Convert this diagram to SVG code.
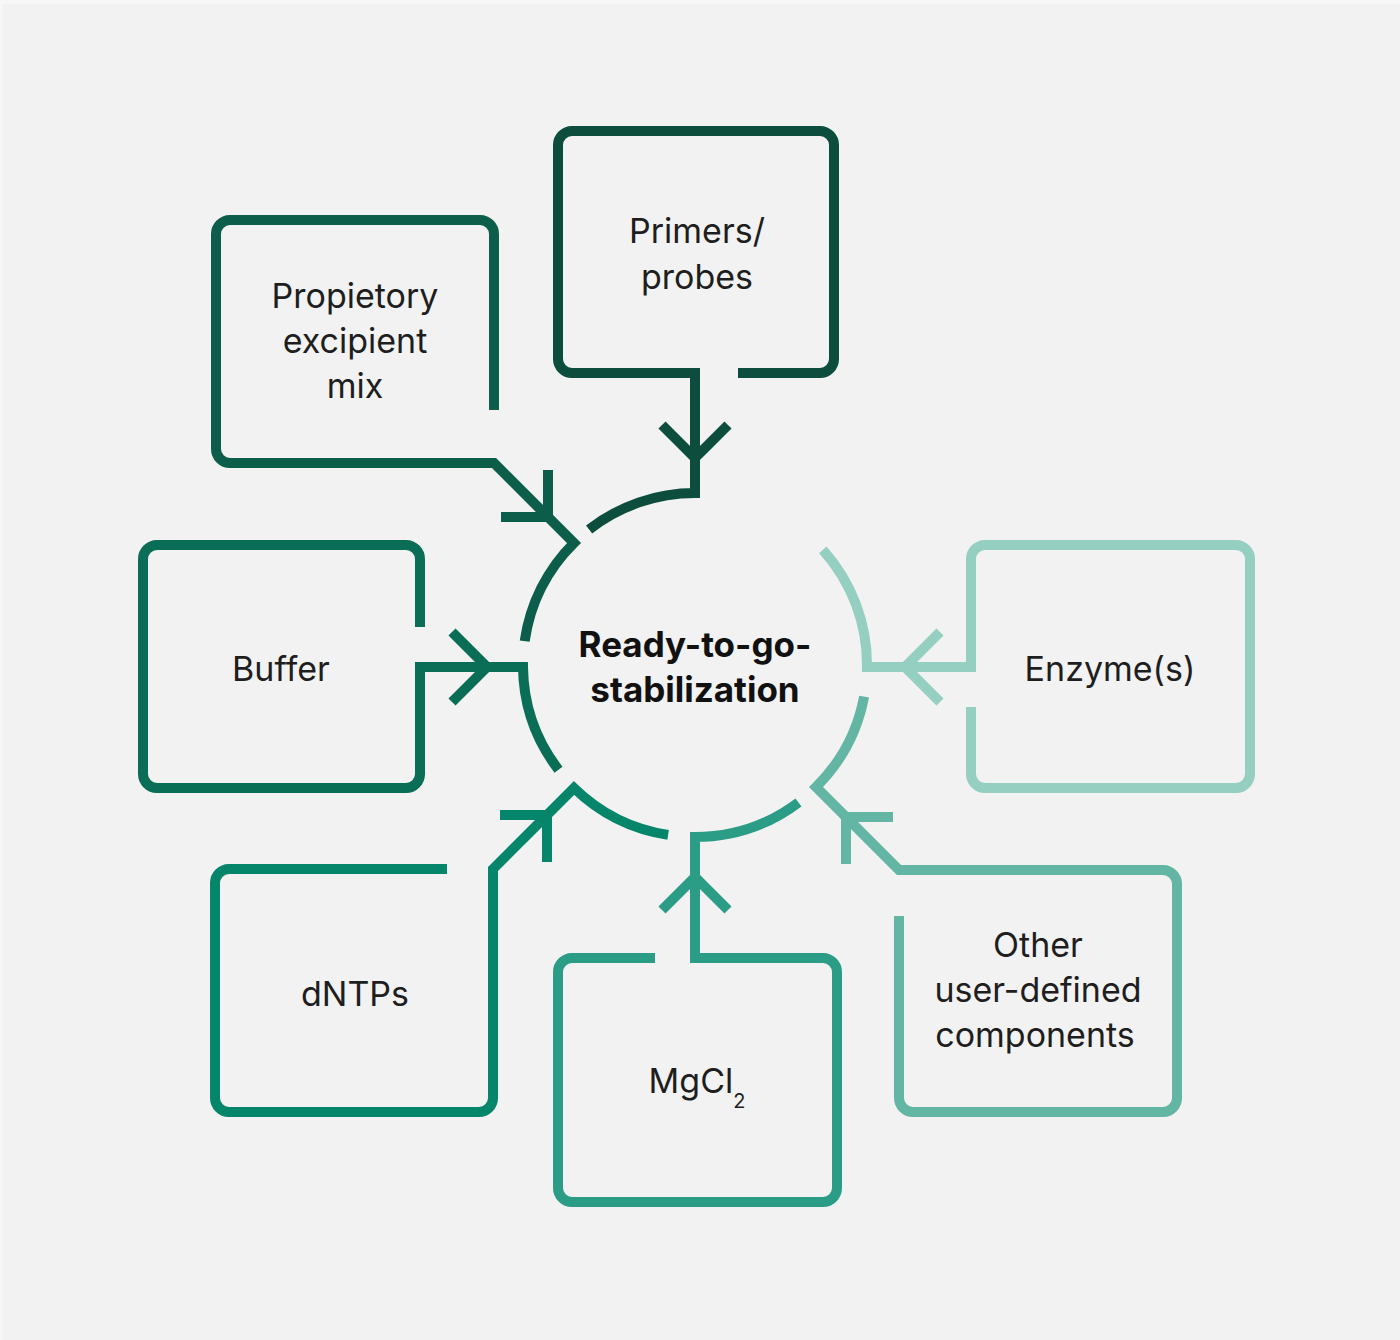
<svg xmlns="http://www.w3.org/2000/svg" width="1400" height="1340" viewBox="0 0 1400 1340">
<style>
.ln{fill:none;stroke-width:10;stroke-linecap:butt;stroke-linejoin:miter;stroke-miterlimit:10}
.c1{stroke:#0d4d3d}.c2{stroke:#0c5e4a}.c3{stroke:#0a6d55}.c4{stroke:#05856a}.c5{stroke:#2b9c85}.c6{stroke:#63b5a4}.c7{stroke:#95cfc2}
.t{font-family:Inter,"Liberation Sans",Arial,sans-serif;font-size:34px;fill:#1e1e1e;text-anchor:middle}
.tb{font-family:Inter,"Liberation Sans",Arial,sans-serif;font-size:35px;font-weight:700;fill:#111;text-anchor:middle}
</style>
<rect x="0" y="0" width="1400" height="1340" fill="#f7f7f7"/>
<rect x="3" y="4" width="1397" height="1336" fill="#f2f2f2"/>

<g id="center">
<text class="tb" x="695" y="657">Ready-to-go-</text>
<text class="tb" x="695" y="702">stabilization</text>
</g>

<g id="primers">
<path class="ln c1" d="M738,373 H820 A14 14 0 0 0 834,359 V145 A14 14 0 0 0 820,131 H572 A14 14 0 0 0 558,145 V359 A14 14 0 0 0 572,373 H690"/>
<text class="t" x="697" y="243">Primers/</text>
<text class="t" x="697" y="289">probes</text>
</g>

<g id="excipient">
<path class="ln c2" d="M494,410 V234 A14 14 0 0 0 480,220 H230 A14 14 0 0 0 216,234 V449 A14 14 0 0 0 230,463 H480"/>
<text class="t" x="355" y="308">Propietory</text>
<text class="t" x="355" y="353">excipient</text>
<text class="t" x="355" y="398">mix</text>
</g>

<g id="buffer">
<path class="ln c3" d="M420,627 V559 A14 14 0 0 0 406,545 H157 A14 14 0 0 0 143,559 V774 A14 14 0 0 0 157,788 H406 A14 14 0 0 0 420,774 V680"/>
<text class="t" x="281" y="681">Buffer</text>
</g>

<g id="enzymes">
<path class="ln c7" d="M971,707 V774 A14 14 0 0 0 985,788 H1236 A14 14 0 0 0 1250,774 V559 A14 14 0 0 0 1236,545 H985 A14 14 0 0 0 971,559 V655"/>
<text class="t" x="1110" y="681">Enzyme(s)</text>
</g>

<g id="dntps">
<path class="ln c4" d="M447,869 H229 A14 14 0 0 0 215,883 V1098 A14 14 0 0 0 229,1112 H479 A14 14 0 0 0 493,1098 V880"/>
<text class="t" x="355" y="1006">dNTPs</text>
</g>

<g id="mgcl2">
<path class="ln c5" d="M655,958 H572 A14 14 0 0 0 558,972 V1188 A14 14 0 0 0 572,1202 H823 A14 14 0 0 0 837,1188 V972 A14 14 0 0 0 823,958 H705"/>
<text class="t" x="697" y="1093">MgCl<tspan font-size="20" dy="15">2</tspan></text>
</g>

<g id="other">
<path class="ln c6" d="M899,916 V1098 A14 14 0 0 0 913,1112 H1163 A14 14 0 0 0 1177,1098 V884 A14 14 0 0 0 1163,870 H910"/>
<text class="t" x="1038" y="957">Other</text>
<text class="t" x="1038" y="1002">user-defined</text>
<text class="t" x="1035" y="1047">components</text>
</g>

<g id="connectors">
<path class="ln c1" d="M680,373 H695 V493 A172 172 0 0 0 589.1,529.5"/>
<path class="ln c1" d="M662,425 L695,458 L728,425"/>
<path class="ln c2" d="M470,463 H494 L574,543 A172 172 0 0 0 524.7,641.1"/>
<path class="ln c2" d="M548,470 V517 H501"/>
<path class="ln c3" d="M420,690 V667 H523 A172 172 0 0 0 558.5,769.7"/>
<path class="ln c3" d="M452,632 L487,667 L452,702"/>
<path class="ln c4" d="M493,890 V869 L574,788 A172 172 0 0 0 668.1,834.9"/>
<path class="ln c4" d="M500,815 H547 V862"/>
<path class="ln c5" d="M710,958 H695 V837 A172 172 0 0 0 798.5,802.4"/>
<path class="ln c5" d="M662,910 L695,877 L728,910"/>
<path class="ln c6" d="M920,870 H899 L816,787 A172 172 0 0 0 864.1,696.6"/>
<path class="ln c6" d="M893,817 H846 V864"/>
<path class="ln c7" d="M971,645 V667 H867 A172 172 0 0 0 822.8,549.9"/>
<path class="ln c7" d="M940,632 L905,667 L940,702"/>
</g>
</svg>
